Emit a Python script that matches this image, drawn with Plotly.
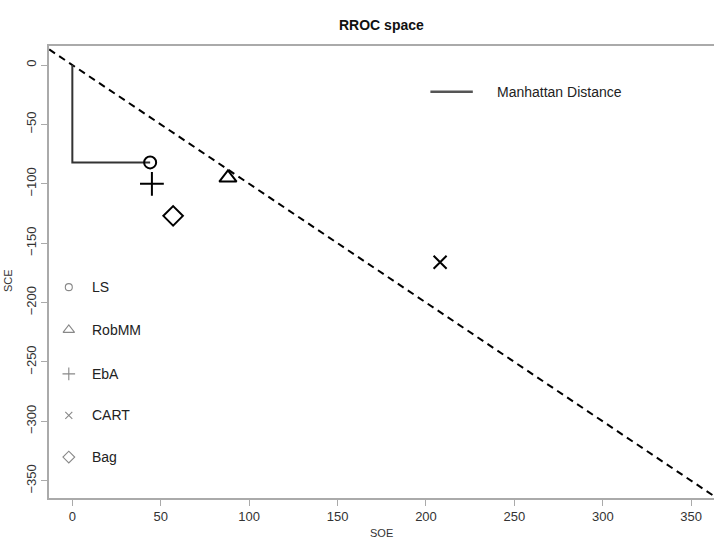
import plotly.graph_objects as go

# ---- data ----
methods = ["LS", "RobMM", "EbA", "CART", "Bag"]
soe = [44, 88, 45, 208, 57]
sce = [-82, -95, -100, -166, -127]
symbols = ["circle-open", "triangle-up-open", "cross-thin-open", "x-thin-open", "diamond-open"]
sizes = [12, 15, 17, 13, 15]
legend_sizes = [7, 10, 9, 7, 9]

x_ticks = [0, 50, 100, 150, 200, 250, 300, 350]
y_ticks = [0, -50, -100, -150, -200, -250, -300, -350]

FONT = "Liberation Sans, Arial, sans-serif"

fig = go.Figure()

# diagonal dashed line y = -x
fig.add_trace(go.Scatter(x=[-30, 420], y=[30, -420], mode="lines",
                         line=dict(color="black", width=2, dash="7px,5px"),
                         showlegend=False, hoverinfo="skip"))

# Manhattan distance for LS
fig.add_trace(go.Scatter(x=[0, 0, soe[0]], y=[0, sce[0], sce[0]], mode="lines",
                         line=dict(color="#333333", width=2),
                         showlegend=False, hoverinfo="skip"))

# points
for m, x, y, s, sz in zip(methods, soe, sce, symbols, sizes):
    fig.add_trace(go.Scatter(x=[x], y=[y], mode="markers", name=m,
                             marker=dict(symbol=s, size=sz, color="black",
                                         line=dict(color="black", width=2)),
                             showlegend=False))

# manual legend (bottom left)
leg_y = [-187, -223, -260, -295, -330]
for m, s, sz, ly in zip(methods, symbols, legend_sizes, leg_y):
    fig.add_trace(go.Scatter(x=[-2], y=[ly], mode="markers",
                             marker=dict(symbol=s, size=sz, color="#888888",
                                         line=dict(color="#888888", width=1.1)),
                             showlegend=False, hoverinfo="skip"))
    fig.add_annotation(x=10, y=ly, text=m, showarrow=False, xanchor="left",
                       yanchor="middle", font=dict(family=FONT, size=14, color="#222222"))

# manual legend (top right)
fig.add_trace(go.Scatter(x=[202.5, 226.5], y=[-22.5, -22.5], mode="lines",
                         line=dict(color="#555555", width=2.5),
                         showlegend=False, hoverinfo="skip"))
fig.add_annotation(x=239, y=-22.5, text="Manhattan Distance", showarrow=False,
                   xanchor="left", yanchor="middle",
                   font=dict(family=FONT, size=14, color="#222222"))

# title
fig.add_annotation(xref="paper", yref="paper", x=0.5, y=1, yshift=21,
                   text="<b>RROC space</b>", showarrow=False,
                   xanchor="center", yanchor="middle",
                   font=dict(family=FONT, size=14, color="#111111"))

# axis titles
fig.add_annotation(xref="paper", yref="paper", x=0.5, y=0, yshift=-27,
                   text="SOE", showarrow=False, xanchor="center", yanchor="top",
                   font=dict(family=FONT, size=11, color="#333333"))
fig.add_annotation(xref="paper", yref="paper", x=0, xshift=-33, y=0.48,
                   text="SCE", showarrow=False, xanchor="right", yanchor="middle",
                   textangle=-90, font=dict(family=FONT, size=11, color="#333333"))

axis_common = dict(showgrid=False, zeroline=False, showline=True,
                   linecolor="#aaaaaa", linewidth=1.5, ticks="outside",
                   ticklen=6, tickcolor="#aaaaaa", tickwidth=1.2, automargin=False,
                   tickfont=dict(family=FONT, size=13, color="#333333"))

fig.update_layout(
    width=714, height=540,
    margin=dict(l=49, r=0, t=46, b=42),
    plot_bgcolor="white", paper_bgcolor="white",
    xaxis=dict(range=[-13.2, 362.9], tickvals=x_ticks, mirror=True, **axis_common),
    yaxis=dict(range=[-364.5, 16], tickvals=y_ticks, tickangle=-90, **axis_common),
    showlegend=False,
)

fig.write_html("out.html", config={"displayModeBar": False},
               post_script="document.body.style.margin='0';document.body.style.overflow='hidden';")
